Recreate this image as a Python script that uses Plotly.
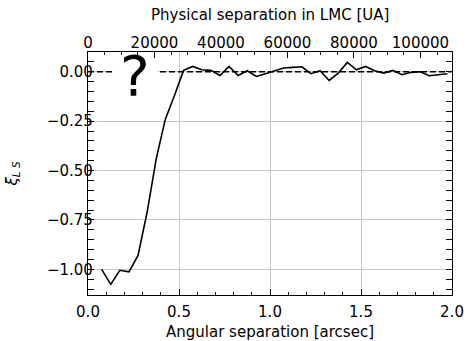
import plotly.graph_objects as go

# Data
sep_arcsec = [0.075, 0.125, 0.175, 0.225, 0.275, 0.325, 0.375, 0.425, 0.475, 0.525,
              0.575, 0.625, 0.675, 0.725, 0.775, 0.825, 0.875, 0.925, 0.975, 1.025,
              1.075, 1.125, 1.175, 1.225, 1.275, 1.325, 1.375, 1.425, 1.475, 1.525,
              1.575, 1.625, 1.675, 1.725, 1.775, 1.825, 1.875, 1.925, 1.975]
xi_ls = [-1.000, -1.076, -1.005, -1.013, -0.930, -0.710, -0.440, -0.240, -0.120, 0.007,
         0.027, 0.010, 0.007, -0.019, 0.027, -0.019, 0.005, -0.024, -0.010, 0.005,
         0.019, 0.022, 0.025, -0.010, 0.005, -0.044, -0.007, 0.047, 0.010, 0.027,
         0.005, -0.007, 0.007, -0.015, -0.003, 0.000, -0.020, -0.015, -0.010]
ref_x = [0.0, 2.0]
ref_y = [0.0, 0.0]
x_range = [0.0, 2.0]
y_range = [-1.13, 0.10]
AU_PER_ARCSEC = 54750
x_ticks = [0.0, 0.5, 1.0, 1.5, 2.0]
y_ticks = [0.0, -0.25, -0.5, -0.75, -1.0]
au_ticks = [0, 20000, 40000, 60000, 80000, 100000]

FONT = "DejaVu Sans"
fs = 15

fig = go.Figure()
fig.add_trace(go.Scatter(x=ref_x, y=ref_y, mode="lines",
                         line=dict(color="black", width=1.4, dash="6px,3px"),
                         hoverinfo="skip", showlegend=False))
fig.add_trace(go.Scatter(x=sep_arcsec, y=xi_ls, mode="lines",
                         line=dict(color="black", width=1.6),
                         showlegend=False))
fig.add_trace(go.Scatter(x=[v * AU_PER_ARCSEC for v in x_range], y=[None, None],
                         xaxis="x2", mode="lines", opacity=0,
                         hoverinfo="skip", showlegend=False))

# white box hiding the dashed line behind the "?"
fig.add_annotation(x=0.258, y=0, xref="x", yref="y", text=" ", showarrow=False,
                   width=44, height=8, bgcolor="white", borderpad=0)
fig.add_annotation(x=0.26, y=0, xref="x", yref="y", text="?", showarrow=False,
                   font=dict(family=FONT, size=56, color="black"), yshift=-4)

# axis titles
fig.add_annotation(text="Angular separation [arcsec]", xref="paper", yref="paper",
                   x=0.5, y=0, yanchor="middle", yshift=-37, showarrow=False,
                   font=dict(family=FONT, size=fs, color="black"))
fig.add_annotation(text="Physical separation in LMC [UA]", xref="paper", yref="paper",
                   x=0.5, y=1, yanchor="middle", yshift=37, showarrow=False,
                   font=dict(family=FONT, size=fs, color="black"))
fig.add_annotation(text="<i>ξ<sub>L S</sub></i>", xref="paper", yref="paper",
                   x=0, y=0.5, xanchor="center", xshift=-76, textangle=-90, showarrow=False,
                   font=dict(family=FONT, size=fs, color="black"))

axis_common = dict(
    ticks="inside", ticklen=6, tickwidth=1, tickcolor="black",
    showline=True, linecolor="black", linewidth=1.3,
    tickfont=dict(family=FONT, size=fs, color="black"),
    zeroline=False, automargin=False,
)

fig.update_layout(
    width=466, height=341,
    margin=dict(l=88, r=14, t=52, b=46),
    paper_bgcolor="white", plot_bgcolor="white",
    font=dict(family=FONT, size=fs, color="black"),
    xaxis=dict(range=x_range, tickvals=x_ticks, tickformat=".1f",
               showgrid=True, gridcolor="#c8c8c8", gridwidth=1, ticklabelstandoff=3,
               minor=dict(dtick=0.1, ticks="inside", ticklen=3, tickcolor="black", showgrid=False),
               **axis_common),
    xaxis2=dict(range=[v * AU_PER_ARCSEC for v in x_range], overlaying="x", side="top",
                tickvals=au_ticks, tickformat="d", showgrid=False, ticklabelstandoff=-3,
                minor=dict(dtick=5000, ticks="inside", ticklen=3, tickcolor="black", showgrid=False),
                **axis_common),
    yaxis=dict(range=y_range, tickvals=y_ticks, tickformat=".2f", mirror="allticks",
               showgrid=True, gridcolor="#c8c8c8", gridwidth=1, ticklabelstandoff=-9,
               minor=dict(dtick=0.05, tick0=0, ticks="inside", ticklen=3, tickcolor="black", showgrid=False),
               **axis_common),
)

fig.write_html("out.html", config={"displayModeBar": False},
               post_script="document.body.style.margin='0';document.body.style.padding='0';")
